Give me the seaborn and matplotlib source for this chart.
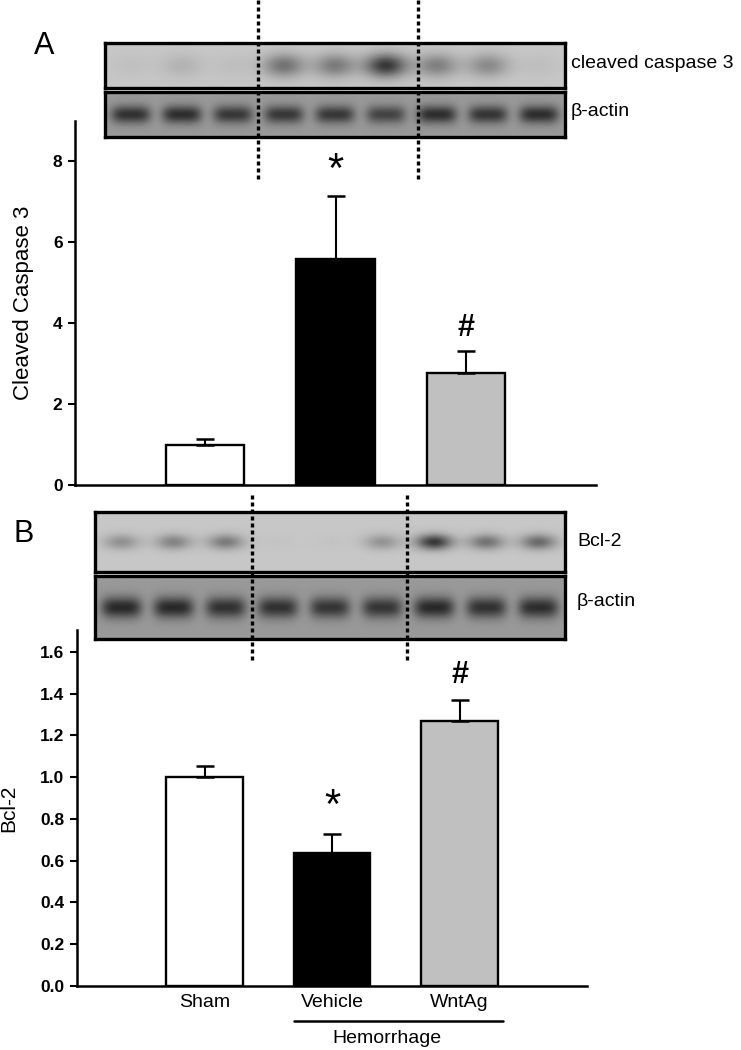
"""
Two-panel western blot + bar chart figure:
A. cleaved caspase 3, B. Bcl-2 (Sham / Vehicle / WntAg)
"""
import numpy as np
import matplotlib
matplotlib.use("Agg")
import matplotlib.pyplot as plt
from matplotlib.lines import Line2D
import matplotlib.transforms as mtransforms
import seaborn as sns

# ---- data ----
groups = ["Sham", "Vehicle", "WntAg"]

caspase_mean = [1.0, 5.6, 2.76]
caspase_sem = [0.13, 1.55, 0.55]

bcl2_mean = [1.0, 0.635, 1.27]
bcl2_sem = [0.055, 0.092, 0.10]

# relative band darkness per lane (9 lanes, 3 per group)
caspase_bands = [0.04, 0.12, 0.05, 0.50, 0.45, 0.85, 0.42, 0.36, 0.05]
actin_a_bands = [0.85, 0.88, 0.80, 0.80, 0.80, 0.70, 0.88, 0.82, 0.88]
bcl2_bands = [0.32, 0.40, 0.45, 0.02, 0.02, 0.30, 0.85, 0.50, 0.55]
actin_b_bands = [0.92, 0.92, 0.85, 0.85, 0.82, 0.82, 0.92, 0.85, 0.88]

bar_colors = ["white", "black", "#c0c0c0"]

sns.set_style("ticks")
plt.rcParams["font.family"] = ["Liberation Sans", "DejaVu Sans"]
for key in ["text.color", "axes.labelcolor", "xtick.color", "ytick.color",
            "axes.edgecolor"]:
    plt.rcParams[key] = "black"

W, H = 741, 1050
fig = plt.figure(figsize=(W / 100, H / 100), dpi=100)


def px_axes(x0, y0, x1, y1):
    # axes from pixel box (top-left origin)
    return fig.add_axes([x0 / W, 1 - y1 / H, (x1 - x0) / W, (y1 - y0) / H])


def blot(x0, y0, x1, y1, bands, bg, half_w, half_h, power):
    ax = px_axes(x0, y0, x1, y1)
    ax.set_zorder(2)
    nx, ny = 460, 60
    xx = np.linspace(0, 1, nx)[None, :]
    yy = np.linspace(0, 1, ny)[:, None]
    img = np.full((ny, nx), bg)
    n = len(bands)
    for i, b in enumerate(bands):
        xc = (i + 0.5) / n
        prof = np.exp(-np.abs((xx - xc) / half_w) ** power - ((yy - 0.5) / half_h) ** 2)
        img = img - b * (bg - 0.12) * prof
    ax.imshow(img, cmap="gray", vmin=0, vmax=1, aspect="auto",
              extent=(0, 1, 1, 0), interpolation="bilinear")
    ax.set_xticks([])
    ax.set_yticks([])
    for s in ax.spines.values():
        s.set_linewidth(2.4)
        s.set_color("black")
    return ax


def bar_panel(x0, y0, x1, y1, means, sems, ylim, yticks, fmt):
    ax = px_axes(x0, y0, x1, y1)
    ax.set_facecolor("none")
    sns.barplot(x=groups, y=means, hue=groups, palette=bar_colors, width=0.6,
                edgecolor="black", linewidth=1.7, legend=False, ax=ax)
    ax.errorbar(range(len(groups)), means, yerr=[[0] * len(groups), sems],
                fmt="none", ecolor="black", elinewidth=1.5, capsize=6.5,
                capthick=1.8, zorder=1)
    ax.set_xlim(-1, 3)
    ax.set_ylim(*ylim)
    ax.set_yticks(yticks)
    ax.set_yticklabels([fmt.format(t) for t in yticks], fontsize=12.5,
                       fontweight="bold")
    ax.tick_params(axis="y", length=5, width=1.5, pad=4, direction="out")
    ax.tick_params(axis="x", length=0)
    sns.despine(ax=ax)
    for s in ["left", "bottom"]:
        ax.spines[s].set_linewidth(1.8)
        ax.spines[s].set_color("black")
    ax.set_xlabel("")
    return ax


def dotted(x, y0, y1):
    fig.add_artist(Line2D([x / W, x / W], [1 - y0 / H, 1 - y1 / H],
                          transform=fig.transFigure, color="black",
                          lw=2.4, linestyle=(0, (1.2, 0.9)), zorder=5))


# ---------------- panel A ----------------
fig.text(44 / W, 1 - 46 / H, "A", fontsize=22, ha="center", va="center")
blot(105, 43, 565, 88, caspase_bands, 0.78, 0.045, 0.26, 2)
blot(105, 92, 565, 137, actin_a_bands, 0.60, 0.043, 0.2, 4)
fig.text(571 / W, 1 - 64 / H, "cleaved caspase 3", fontsize=14, va="center")
fig.text(571 / W, 1 - 111 / H, "β-actin", fontsize=14, va="center")

axA = bar_panel(75, 121, 596, 485, caspase_mean, caspase_sem,
                (0, 9), [0, 2, 4, 6, 8], "{:g}")
axA.set_xticks([])
axA.set_ylabel("Cleaved Caspase 3", fontsize=16)
axA.yaxis.set_label_coords((34 - 75) / 521, 0.5)
axA.text(1, caspase_mean[1] + caspase_sem[1] + 0.62, "*", fontsize=30,
         ha="center", va="center")
axA.text(2, caspase_mean[2] + caspase_sem[2] + 0.58, "#", fontsize=22,
         fontweight="bold", ha="center", va="center")

dotted(258, 0, 179)
dotted(418, 0, 179)

# ---------------- panel B ----------------
fig.text(24 / W, 1 - 534 / H, "B", fontsize=22, ha="center", va="center")
blot(95, 512, 565, 572, bcl2_bands, 0.78, 0.038, 0.13, 2)
blot(95, 576, 565, 639, actin_b_bands, 0.60, 0.043, 0.17, 4)
fig.text(577 / W, 1 - 542 / H, "Bcl-2", fontsize=14, va="center")
fig.text(577 / W, 1 - 602 / H, "β-actin", fontsize=14, va="center")

bcl_ticks = [0.0, 0.2, 0.4, 0.6, 0.8, 1.0, 1.2, 1.4, 1.6]
axB = bar_panel(77, 630, 587, 986, bcl2_mean, bcl2_sem,
                (0, 1.705), bcl_ticks, "{:.1f}")
axB.set_xticks(range(len(groups)))
axB.set_xticklabels(groups, fontsize=14)
axB.tick_params(axis="x", pad=6)
axB.set_ylabel("Bcl-2", fontsize=15)
axB.yaxis.set_label_coords((18 - 77) / 510, 0.5)
axB.text(1, bcl2_mean[1] + bcl2_sem[1] + 0.13, "*", fontsize=30,
         ha="center", va="center")
axB.text(2, bcl2_mean[2] + bcl2_sem[2] + 0.12, "#", fontsize=22,
         fontweight="bold", ha="center", va="center")

# Hemorrhage bracket under Vehicle + WntAg
trans = mtransforms.blended_transform_factory(axB.transData, axB.transAxes)
axB.add_line(Line2D([0.7, 2.34], [-0.098, -0.098], transform=trans,
                    color="black", lw=1.8, clip_on=False))
axB.text(1.43, -0.147, "Hemorrhage", transform=trans, fontsize=14,
         ha="center", va="center")

dotted(252, 495, 660)
dotted(407, 495, 660)

fig.savefig("out.png", dpi=100)
